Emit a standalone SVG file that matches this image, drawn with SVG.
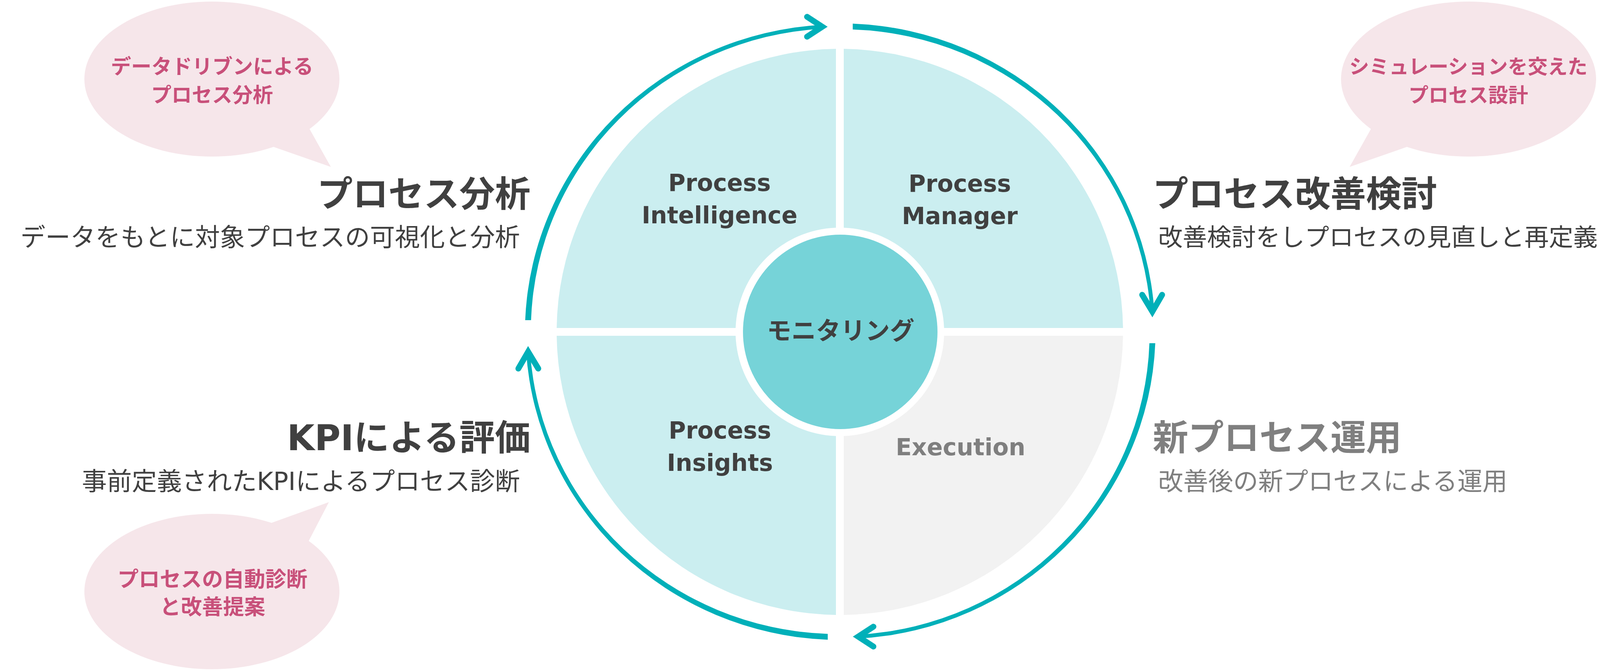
<svg xmlns="http://www.w3.org/2000/svg" width="4317" height="1716" viewBox="0 0 4317 1716">
  <style>
    .jp { font-family: "Noto Sans CJK JP", "Noto Sans CJK SC", sans-serif; }
    .lat { font-family: "DejaVu Sans", "Noto Sans CJK JP", sans-serif; }
    .title { font-weight: 700; font-size: 91px; fill: #404040; }
    .sub { font-weight: 400; font-size: 64px; fill: #404040; }
    .bubble { fill: #F6E6EA; }
    .btext { font-weight: 700; font-size: 52px; fill: #C8507A; text-anchor: middle; }
    .quad { fill: #CBEEF0; }
    .exec { fill: #F2F2F2; }
    .label { font-family: "DejaVu Sans", "Liberation Sans", sans-serif; font-weight: 700; font-size: 60px; fill: #404040; text-anchor: middle; }
    .shaft { fill: #00B0B9; }
    .head { fill: none; stroke: #00B0B9; stroke-width: 15; stroke-linecap: round; stroke-linejoin: miter; stroke-miterlimit: 6; }
  </style>
  <rect width="4317" height="1716" fill="#FFFFFF"/>

  <!-- Quadrant nodes -->
  <g id="node-process-intelligence">
    <path class="quad" d="M2140,125.07 L2140,583.2 A267,267 0 0 0 1883.2,840 L1425.07,840 A725,725 0 0 1 2140,125.07 Z"/>
    <text class="label" x="1842" y="489">Process</text>
    <text class="label" x="1842" y="572">Intelligence</text>
  </g>
  <g id="node-process-manager">
    <path class="quad" d="M2160,125.07 A725,725 0 0 1 2874.93,840 L2416.8,840 A267,267 0 0 0 2160,583.2 Z"/>
    <text class="label" x="2457" y="491">Process</text>
    <text class="label" x="2457" y="574">Manager</text>
  </g>
  <g id="node-execution">
    <path class="exec" d="M2874.93,860 A725,725 0 0 1 2160,1574.93 L2160,1116.8 A267,267 0 0 0 2416.8,860 Z"/>
    <text class="label" x="2459" y="1166" style="fill:#7F7F7F">Execution</text>
  </g>
  <g id="node-process-insights">
    <path class="quad" d="M2140,1574.93 A725,725 0 0 1 1425.07,860 L1883.2,860 A267,267 0 0 0 2140,1116.8 Z"/>
    <text class="label" x="1843" y="1123">Process</text>
    <text class="label" x="1843" y="1206">Insights</text>
  </g>
  <g id="node-monitoring">
    <circle cx="2151" cy="850" r="249" fill="#76D3D8"/>
    <text class="jp" x="2152" y="869" font-size="63" font-weight="700" fill="#404040" text-anchor="middle">モニタリング</text>
  </g>

  <!-- Connectors: circular arrows -->
  <g id="connectors">
    <path class="shaft" d="M1344.5,820 A806.5,789.5 0 0 1 2105,63.5 L2105,73.5 A791.5,774.5 0 0 0 1359.5,820 Z"/>
    <polyline class="head" points="2066,43 2105,68.5 2066,94"/>
    <path class="shaft" d="M2183,60.5 A806.5,789.5 0 0 1 2955,798 L2945,798 A791.5,774.5 0 0 0 2183,75.5 Z"/>
    <polyline class="head" points="2924,755 2950,798 2975,755"/>
    <path class="shaft" d="M2957.5,879 A806.5,789.5 0 0 1 2197,1635.5 L2197,1625.5 A791.5,774.5 0 0 0 2942.5,879 Z"/>
    <polyline class="head" points="2236,1656 2197,1630.5 2236,1605"/>
    <path class="shaft" d="M2119,1638.5 A806.5,789.5 0 0 1 1347,901 L1357,901 A791.5,774.5 0 0 0 2119,1623.5 Z"/>
    <polyline class="head" points="1327,944 1352,901 1378,944"/>
  </g>

  <!-- Stage texts -->
  <g id="node-analysis">
    <text class="jp title" x="1358" y="529" text-anchor="end">プロセス分析</text>
    <text class="jp sub" x="1331" y="630" text-anchor="end">データをもとに対象プロセスの可視化と分析</text>
  </g>
  <g id="node-improvement">
    <text class="jp title" x="2951" y="529">プロセス改善検討</text>
    <text class="jp sub" x="2965" y="630" style="font-size:62.5px">改善検討をしプロセスの見直しと再定義</text>
  </g>
  <g id="node-evaluation">
    <text class="jp title" x="1358" y="1153" text-anchor="end"><tspan class="lat">KPI</tspan>による評価</text>
    <text class="jp sub" x="1331" y="1255" text-anchor="end">事前定義された<tspan class="lat">KPI</tspan>によるプロセス診断</text>
  </g>
  <g id="node-operation">
    <text class="jp title" x="2951" y="1153" style="fill:#7F7F7F">新プロセス運用</text>
    <text class="jp sub" x="2965" y="1255" style="fill:#7F7F7F">改善後の新プロセスによる運用</text>
  </g>

  <!-- Speech bubbles -->
  <g id="bubble-data-driven">
    <ellipse class="bubble" cx="542.5" cy="202.5" rx="326.5" ry="198.5"/>
    <polygon class="bubble" points="790,326 847,427.5 694,374"/>
    <text class="jp btext" x="543" y="189">データドリブンによる</text>
    <text class="jp btext" x="543" y="262">プロセス分析</text>
  </g>
  <g id="bubble-simulation">
    <ellipse class="bubble" cx="3759.5" cy="202.5" rx="326.5" ry="198.5"/>
    <polygon class="bubble" points="3512,326 3455,427.5 3608,374"/>
    <text class="jp btext" x="3759" y="189" style="font-size:51px">シミュレーションを交えた</text>
    <text class="jp btext" x="3759" y="262" style="font-size:51px">プロセス設計</text>
  </g>
  <g id="bubble-auto-diagnosis">
    <ellipse class="bubble" cx="542.5" cy="1515" rx="326.5" ry="199"/>
    <polygon class="bubble" points="690,1341 842,1286 789,1388"/>
    <text class="jp btext" x="544" y="1503" style="font-size:54px">プロセスの自動診断</text>
    <text class="jp btext" x="544" y="1574" style="font-size:54px">と改善提案</text>
  </g>
</svg>
